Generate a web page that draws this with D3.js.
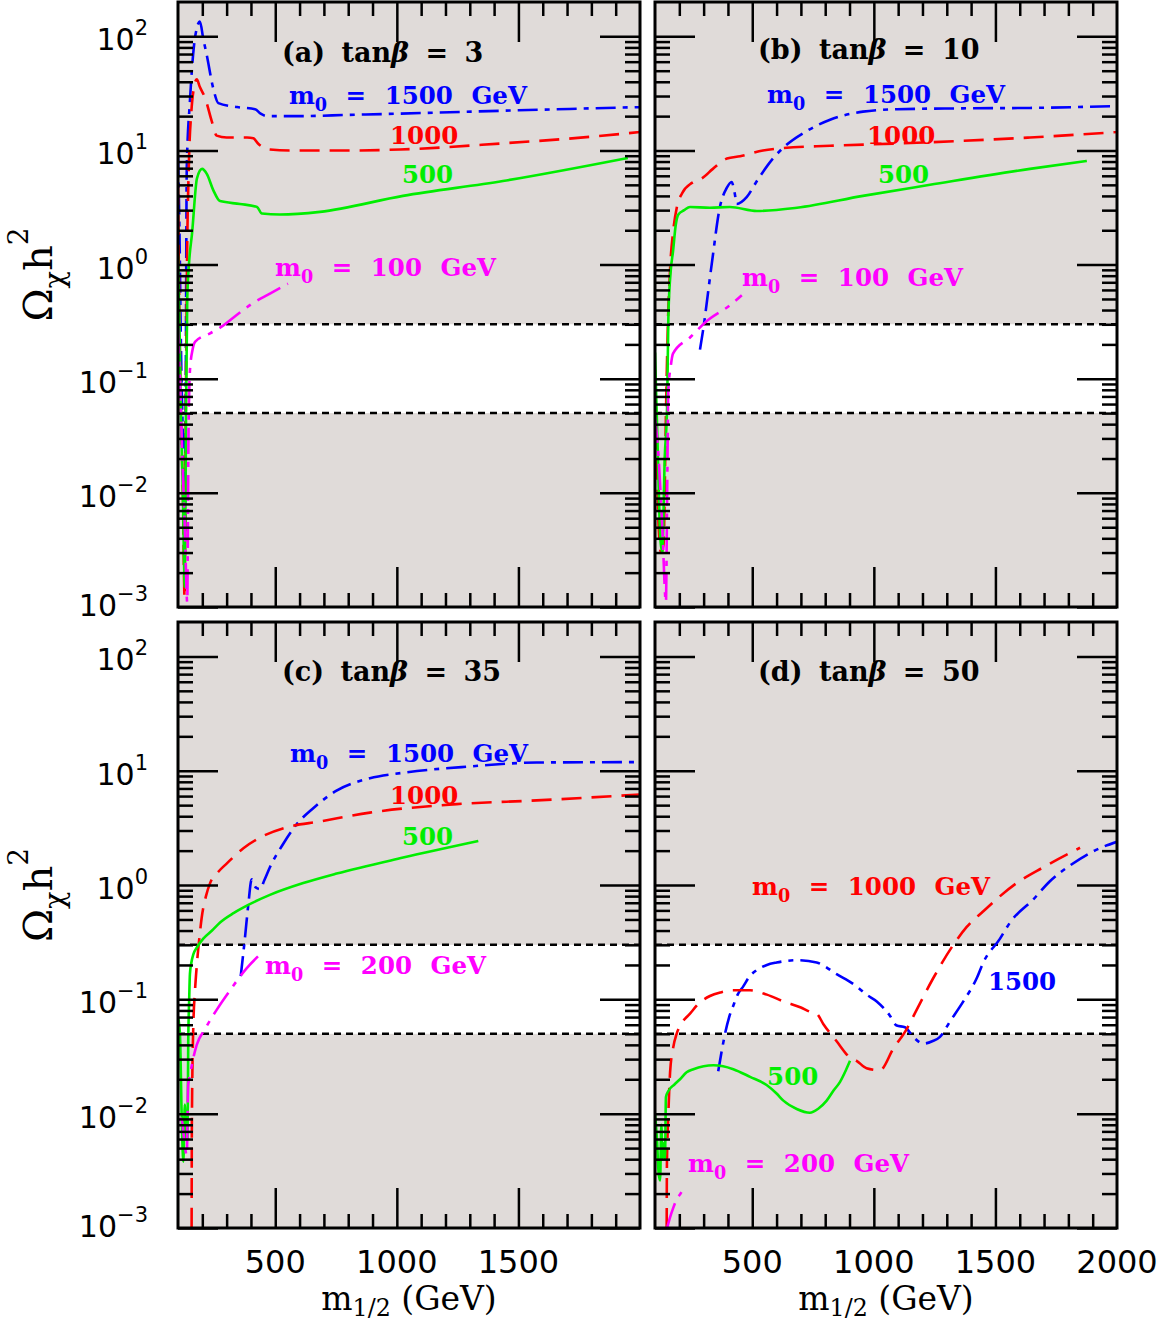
<!DOCTYPE html>
<html><head><meta charset="utf-8">
<script src="https://cdn.jsdelivr.net/npm/d3@7"></script>
<style>
body{margin:0;background:#fff}
svg{display:block}
text{white-space:pre}
</style>
</head><body>
<svg id="chart" width="1167" height="1329"></svg>
<script>
// ---------------- data ----------------
const xDomain = [100, 2000];
const yDomain = [1e-3, 200];
const bandLow = 0.05, bandHigh = 0.3;
const xMajorTicks = [500, 1000, 1500];
const xMinorTicks = [200,300,400,600,700,800,900,1100,1200,1300,1400,1600,1700,1800,1900];
const yTickExps = [2, 1, 0, -1, -2, -3];
const xTickLabelsLeft = [500, 1000, 1500];
const xTickLabelsRight = [500, 1000, 1500, 2000];
const panelTitles = ["(a) tanβ = 3", "(b) tanβ = 10", "(c) tanβ = 35", "(d) tanβ = 50"];

// panel (a) tan beta = 3
const a_m1500 = [[100,9],[106,2],[112,0.2],[120,0.03],[128,0.004],[132,0.1],[136,7],[149,27],[165,80],[177,117],[190,135],[204,95],[218,69],[245,35],[266,26],[343,24],[417,23],[440,21],[466,20],[600,20],[800,20.5],[1000,21],[1500,22.5],[2000,24]];
const a_m1000 = [[100,5],[105,0.5],[112,0.05],[120,0.01],[127,0.0012],[132,0.05],[137,1],[145,8],[155,22],[165,35],[177,42],[190,36],[211,29],[239,18],[259,13.5],[300,13],[384,13],[410,12.8],[429,11.5],[478,10.2],[560,10],[800,10],[1013,10.2],[1424,11.5],[1800,13.2],[2000,14.5]];
const a_m500  = [[100,1.2],[106,0.3],[112,0.05],[120,0.01],[128,0.0015],[133,0.05],[138,0.5],[145,1.0],[158,1.9],[178,5.7],[199,6.9],[219,6.2],[245,4.5],[273,3.6],[355,3.4],[425,3.2],[445,2.8],[519,2.75],[684,2.9],[1025,4.0],[1436,5.4],[1950,8.6]];
const a_m100  = [[100,0.28],[108,0.1],[118,0.02],[128,0.005],[138,0.0011],[143,0.03],[149,0.117],[160,0.18],[170,0.21],[232,0.25],[273,0.28],[340,0.36],[408,0.46],[480,0.56],[552,0.68]];

// panel (b) tan beta = 10
const b_m1500 = [[285,0.18],[297,0.26],[333,1.0],[367,3.2],[395,4.7],[415,5.3],[428,4.2],[436,3.4],[477,3.9],[519,5.4],[585,8.5],[626,10.5],[724,14.8],[820,18.6],[955,21.9],[1095,23],[1366,23.4],[1642,23.6],[2000,24.5]];
const b_m1000 = [[100,0.12],[108,0.02],[115,0.005],[125,0.003],[135,0.0035],[145,0.05],[153,0.3],[163,1.0],[174,1.9],[190,3.2],[211,4.2],[252,5.2],[293,5.7],[338,6.9],[396,8.5],[450,8.9],[544,10],[626,10.5],[820,11],[1095,11.5],[1642,13],[2000,14.5]];
const b_m500  = [[100,0.17],[110,0.03],[122,0.004],[130,0.003],[140,0.02],[150,0.06],[155,0.35],[165,0.9],[174,1.3],[185,2.2],[196,2.75],[220,3.0],[244,3.2],[326,3.15],[408,3.2],[519,2.95],[684,3.15],[955,4.0],[1231,5.0],[1642,6.9],[1876,8.1]];
const b_m100  = [[100,0.046],[115,0.02],[130,0.005],[145,0.0011],[150,0.01],[155,0.08],[165,0.13],[174,0.166],[244,0.23],[313,0.32],[408,0.44],[457,0.54]];

// panel (c) tan beta = 35
const c_m1500 = [[358,0.16],[375,0.34],[389,0.67],[403,1.12],[420,0.95],[437,0.92],[455,1.1],[478,1.43],[533,2.3],[588,3.4],[656,4.7],[752,6.7],[889,8.6],[1026,9.6],[1300,10.9],[1575,11.8],[2000,11.9]];
const c_m1000 = [[156,0.001],[157,0.008],[163,0.059],[170,0.12],[177,0.195],[187,0.33],[197,0.51],[215,0.8],[232,1.04],[265,1.3],[300,1.54],[369,2.1],[437,2.6],[547,3.2],[684,3.6],[889,4.3],[1246,5.1],[1575,5.5],[2000,6.2]];
const c_m500  = [[100,0.07],[108,0.05],[115,0.01],[122,0.0038],[128,0.012],[133,0.006],[139,0.006],[142,0.04],[146,0.1],[149,0.166],[155,0.21],[163,0.247],[180,0.29],[204,0.34],[240,0.4],[273,0.47],[330,0.57],[389,0.67],[478,0.82],[615,1.04],[752,1.26],[1026,1.74],[1335,2.43]];
const c_m200  = [[100,0.0087],[115,0.009],[125,0.006],[136,0.0043],[142,0.018],[150,0.022],[156,0.026],[177,0.04],[211,0.055],[259,0.081],[314,0.12],[382,0.187],[437,0.247]];

// panel (d) tan beta = 50
const d_m1500 = [[360,0.0235],[374,0.035],[388,0.05],[405,0.07],[422,0.088],[440,0.11],[463,0.13],[490,0.16],[518,0.18],[560,0.2],[600,0.21],[683,0.22],[765,0.21],[847,0.166],[929,0.13],[970,0.11],[1012,0.096],[1066,0.072],[1094,0.059],[1128,0.057],[1162,0.047],[1203,0.041],[1240,0.043],[1272,0.047],[1313,0.064],[1368,0.096],[1423,0.153],[1450,0.21],[1519,0.34],[1560,0.47],[1656,0.75],[1724,1.08],[1806,1.48],[1916,2.04],[2000,2.39]];
const d_m1000 = [[148,0.001],[149,0.0036],[155,0.01],[162,0.023],[175,0.038],[189,0.05],[210,0.062],[244,0.075],[280,0.092],[326,0.107],[370,0.115],[422,0.12],[491,0.12],[560,0.11],[628,0.096],[700,0.085],[737,0.078],[765,0.075],[792,0.061],[847,0.043],[902,0.031],[929,0.029],[970,0.025],[1025,0.024],[1080,0.037],[1135,0.055],[1176,0.081],[1244,0.153],[1327,0.30],[1382,0.43],[1450,0.59],[1587,1.04],[1697,1.43],[1848,2.12]];
const d_m500  = [[100,0.01],[108,0.006],[115,0.003],[121,0.0026],[126,0.008],[131,0.004],[136,0.0055],[141,0.004],[145,0.014],[155,0.0158],[180,0.018],[203,0.020],[230,0.023],[258,0.0245],[300,0.026],[340,0.0265],[380,0.026],[422,0.0245],[491,0.021],[559,0.0178],[600,0.015],[628,0.013],[683,0.011],[737,0.0102],[770,0.011],[806,0.013],[835,0.016],[861,0.019],[885,0.024],[902,0.029]];
const d_m200  = [[150,0.001],[160,0.0012],[175,0.0015],[190,0.0018],[205,0.002],[220,0.0023]];

// curve label texts and anchors (data units: GeV, Omega h^2)
const labelsA = [["m_{0} = 1500 GeV",556,25.5,"m1500"],["1000",972,11.4,"m1000"],["500",1021,5.2,"m500"],["m_{0} = 100 GeV",499,0.8,"mLow"]];
const labelsB = [["m_{0} = 1500 GeV",561,26,"m1500"],["1000",972,11.4,"m1000"],["500",1017,5.2,"m500"],["m_{0} = 100 GeV",458,0.65,"mLow"]];
const labelsC = [["m_{0} = 1500 GeV",561,11.9,"m1500"],["1000",972,5.1,"m1000"],["500",1021,2.24,"m500"],["m_{0} = 200 GeV",458,0.167,"mLow"]];
const labelsD = [["m_{0} = 1000 GeV",499,0.82,"m1000"],["1500",1469,0.121,"m1500"],["500",561,0.0178,"m500"],["m_{0} = 200 GeV",236,0.0031,"mLow"]];
const titleAnchors = [[528,60],[524,63],[528,61],[524,61]];

// ---------------- style / layout ----------------
const styles = {
  m1500: {color:"#0000ff", dash:"20,7,5,7"},
  m1000: {color:"#ff0000", dash:"20,10"},
  m500:  {color:"#00ee00", dash:null},
  mLow:  {color:"#ff00ff", dash:"26,8,5,8"}
};
const GRAY = "#e0dbd9";
const colX = [178, 655], panelW = 462;
const rowY = [2, 622], rowH = [605, 606];

const panels = [
  {col:0,row:0,curves:[["m1500",a_m1500],["m1000",a_m1000],["m500",a_m500],["mLow",a_m100]],labels:labelsA},
  {col:1,row:0,curves:[["m1500",b_m1500],["m1000",b_m1000],["m500",b_m500],["mLow",b_m100]],labels:labelsB},
  {col:0,row:1,curves:[["m1500",c_m1500],["m1000",c_m1000],["m500",c_m500],["mLow",c_m200]],labels:labelsC},
  {col:1,row:1,curves:[["m1500",d_m1500],["m1000",d_m1000],["m500",d_m500],["mLow",d_m200]],labels:labelsD}
];

const svg = d3.select("#chart");
const defs = svg.append("defs");

function rich(t, str, size, supShift, subShift){
  const parts = str.split(/(_\{[^}]*\}|\^\{[^}]*\}|β)/).filter(s => s !== "");
  let shift = 0;
  parts.forEach(s => {
    let txt = s, fs = size, target = 0, italic = false;
    if (s.startsWith("_{")) { txt = s.slice(2,-1); fs = size*0.72; target = (subShift || size*0.3); }
    else if (s.startsWith("^{")) { txt = s.slice(2,-1); fs = size*0.7; target = -(supShift || size*0.5); }
    else if (s === "β") { italic = true; }
    const ts = t.append("tspan").attr("font-size", fs).attr("dy", target - shift).text(txt);
    if (italic) ts.attr("font-style","italic");
    shift = target;
  });
}

const yMinor = [];
for (let e = -3; e <= 2; e++) for (let m = 2; m <= 9; m++) { const v = m*Math.pow(10,e); if (v < 200) yMinor.push(v); }
const yMajor = yTickExps.map(e => Math.pow(10,e));

panels.forEach((p, i) => {
  const x0 = colX[p.col], y0 = rowY[p.row], h = rowH[p.row];
  const x = d3.scaleLinear().domain(xDomain).range([x0, x0 + panelW]);
  const y = d3.scaleLog().domain(yDomain).range([y0 + h, y0]);
  const g = svg.append("g");

  g.append("rect").attr("x",x0).attr("y",y0).attr("width",panelW).attr("height",h).attr("fill",GRAY);
  g.append("rect").attr("x",x0).attr("y",y(bandHigh)).attr("width",panelW)
    .attr("height",y(bandLow)-y(bandHigh)).attr("fill","#fff");
  [bandLow, bandHigh].forEach(v => g.append("line").attr("x1",x0).attr("x2",x0+panelW)
    .attr("y1",y(v)).attr("y2",y(v)).attr("stroke","#000").attr("stroke-width",2.5).attr("stroke-dasharray","7,5"));

  defs.append("clipPath").attr("id","clip"+i).append("rect")
    .attr("x",x0).attr("y",y0).attr("width",panelW).attr("height",h);

  const line = d3.line().x(d => x(d[0])).y(d => y(d[1])).curve(d3.curveMonotoneX);
  const cg = g.append("g").attr("clip-path","url(#clip"+i+")");
  p.curves.forEach(([sk, data]) => {
    const st = styles[sk];
    const path = cg.append("path").attr("d", line(data)).attr("fill","none")
      .attr("stroke", st.color).attr("stroke-width", 2.6).attr("stroke-linejoin","round");
    if (st.dash) path.attr("stroke-dasharray", st.dash);
  });

  // ticks (inward) on all four sides via d3 axes
  function axisTicks(axis, tx, ty) {
    const a = g.append("g").attr("transform",`translate(${tx},${ty})`).call(axis);
    a.select(".domain").remove();
    a.selectAll("text").remove();
    a.selectAll("line").attr("stroke","#000").attr("stroke-width",2.5);
  }
  axisTicks(d3.axisLeft(y).tickValues(yMajor).tickSize(-40).tickFormat(""), x0, 0);
  axisTicks(d3.axisLeft(y).tickValues(yMinor).tickSize(-15).tickFormat(""), x0, 0);
  axisTicks(d3.axisRight(y).tickValues(yMajor).tickSize(-40).tickFormat(""), x0+panelW, 0);
  axisTicks(d3.axisRight(y).tickValues(yMinor).tickSize(-15).tickFormat(""), x0+panelW, 0);
  axisTicks(d3.axisTop(x).tickValues(xMajorTicks).tickSize(-40).tickFormat(""), 0, y0);
  axisTicks(d3.axisTop(x).tickValues(xMinorTicks).tickSize(-14).tickFormat(""), 0, y0);
  axisTicks(d3.axisBottom(x).tickValues(xMajorTicks).tickSize(-40).tickFormat(""), 0, y0+h);
  axisTicks(d3.axisBottom(x).tickValues(xMinorTicks).tickSize(-14).tickFormat(""), 0, y0+h);

  // frame
  g.append("rect").attr("x",x0).attr("y",y0).attr("width",panelW).attr("height",h)
    .attr("fill","none").attr("stroke","#000").attr("stroke-width",3);

  // title
  const ta = titleAnchors[i];
  const tt = g.append("text").attr("x", x(ta[0])).attr("y", y(ta[1]))
    .attr("font-family","DejaVu Serif").attr("font-weight","bold").attr("font-size",27)
    .attr("word-spacing","7px").attr("fill","#000");
  rich(tt, panelTitles[i], 27);

  // curve labels
  p.labels.forEach(([txt, gx, gy, sk]) => {
    const t = g.append("text").attr("x", x(gx)).attr("y", y(gy))
      .attr("font-family","DejaVu Serif").attr("font-weight","bold").attr("font-size",24.5)
      .attr("word-spacing","10px").attr("fill", styles[sk].color);
    rich(t, txt, 24.5);
  });

  // y tick labels (left column only)
  if (p.col === 0) {
    yTickExps.forEach(e => {
      const t = svg.append("text").attr("x", 148).attr("y", y(Math.pow(10,e)) + (e === -3 ? 9 : 14))
        .attr("text-anchor","end").attr("font-family","DejaVu Sans").attr("font-size",30).attr("fill","#000");
      rich(t, "10^{" + (e < 0 ? "\u2212" + (-e) : e) + "}", 30, 15);
    });
    const yt = svg.append("text")
      .attr("transform", `translate(52,${y0 + h/2 - 30}) rotate(-90)`)
      .attr("text-anchor","middle").attr("font-family","DejaVu Serif").attr("font-size",40).attr("fill","#000");
    rich(yt, "Ω_{χ}h^{2}", 40, 24);
  }
  // x tick labels (bottom row only)
  if (p.row === 1) {
    const labs = p.col === 0 ? xTickLabelsLeft : xTickLabelsRight;
    labs.forEach(v => {
      svg.append("text").attr("x", x(v)).attr("y", 1273).attr("text-anchor","middle")
        .attr("font-family","DejaVu Sans").attr("font-size",32).attr("fill","#000").text(v);
    });
    const xt = svg.append("text").attr("x", x0 + panelW/2).attr("y", 1310).attr("text-anchor","middle")
      .attr("font-family","DejaVu Serif").attr("font-size",33).attr("fill","#000");
    rich(xt, "m_{1/2} (GeV)", 33, null, 6);
  }
});
</script>
</body></html>
